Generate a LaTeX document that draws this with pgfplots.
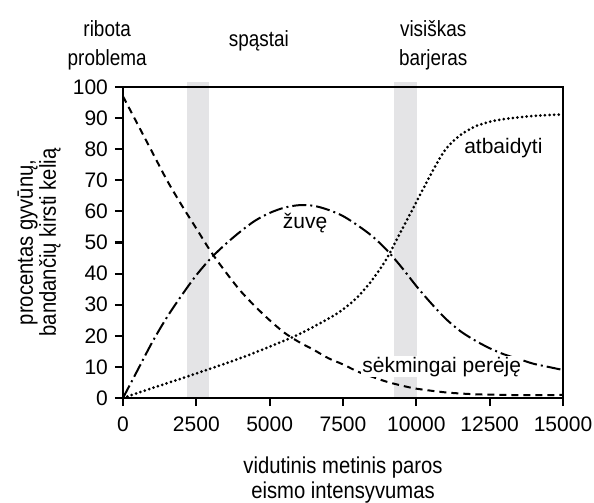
\documentclass[border=0pt]{standalone}
\usepackage{pgfplots}
\pgfplotsset{compat=1.18}
\usepackage{fontspec}
\setmainfont{Liberation Sans}
\newfontfamily\narrowfont[FakeStretch=0.88]{Liberation Sans}
\newfontfamily\topfont[FakeStretch=0.86]{Liberation Sans}
\definecolor{bandgray}{HTML}{E4E4E6}
\begin{document}
\begin{tikzpicture}
\path[use as bounding box] (-61.5pt,-52.5pt) rectangle (235.5pt,199pt);
\begin{axis}[
  scale only axis,
  width=220pt, height=155.5pt,
  xmin=0, xmax=15000, ymin=0, ymax=100,
  clip=false,
  axis on top,
  xtick={0,2500,5000,7500,10000,12500,15000},
  ytick={0,10,20,30,40,50,60,70,80,90,100},
  scaled x ticks=false,
  /pgf/number format/fixed,
  /pgf/number format/1000 sep={},
  /pgf/number format/assume math mode=true,
  xtick pos=bottom, ytick pos=left,
  tick align=outside,
  major tick length=4pt,
  tick style={line width=1pt, black},
  axis line style={line width=1.3pt, black},
  ticklabel style={font=\fontsize{10.5}{12}\selectfont},
  xticklabel style={yshift=-2pt},
  yticklabel style={xshift=0pt},
]
\addplot[fill=bandgray, draw=none, forget plot] coordinates {(2170,0) (2170,101.7) (2920,101.7) (2920,0)} -- cycle;
\addplot[fill=bandgray, draw=none, forget plot] coordinates {(9240,0) (9240,101.7) (10030,101.7) (10030,0)} -- cycle;

% sekmingai pereje (dashed)
\addplot[black, line width=1pt, smooth, dash pattern=on 3.5pt off 2.5pt] coordinates {
(0,97) (500,88) (1000,79) (1500,70) (2000,62) (2500,54.5) (3000,47) (3500,40.5)
(4000,34.5) (4500,29.5) (5000,25) (5500,21) (6000,18) (6500,15.5) (7000,12.8)
(7500,10.8) (8000,8.5) (8500,6.8) (9000,5.2) (9500,4) (10000,3) (11000,1.8)
(12000,1.2) (13000,1) (14000,0.9) (15000,1)};

% zuve (dash-dot)
\addplot[black, line width=1pt, smooth, dash pattern=on 7pt off 2pt on 1pt off 2pt] coordinates {
(0,0) (500,9) (1000,18) (1500,26) (2000,33) (2500,39.5) (3000,45) (3500,49.5)
(4000,53.5) (4500,57) (5000,59.5) (5500,61.2) (6000,62) (6500,61.8) (7000,60.5)
(7500,58.5) (8000,55.5) (8500,52) (9000,47.5) (9500,42) (10000,36) (10500,30.5)
(11000,25.5) (11500,21.5) (12000,18.5) (12500,16) (13000,14) (13500,12.5)
(14000,11) (14500,10) (15000,9)};

% atbaidyti (dotted)
\addplot[black, line width=1.5pt, smooth, line cap=round, dash pattern=on 0pt off 2.3pt] coordinates {
(0,0) (1000,3.2) (2000,6.3) (3000,9.5) (4000,12.8) (5000,16.5) (6000,20.5)
(7000,25.5) (7500,28.5) (8000,32.5) (8500,38) (9000,45) (9500,54) (10000,63)
(10500,72) (11000,80) (11500,84.5) (12000,87.3) (12500,88.8) (13000,89.7)
(14000,90.7) (15000,91.2)};

\node[font=\fontsize{10.5}{12}\selectfont] at (axis cs:6205,56.2) {žuvę};
\node[font=\fontsize{10.5}{12}\selectfont] at (axis cs:12967,80.3) {atbaidyti};
\node[font=\fontsize{10.5}{12}\selectfont, fill=white, inner sep=0.5pt] at (axis cs:10865,10.1) {sėkmingai perėję};

\node[font=\topfont\fontsize{11}{14.5}\selectfont, align=center] at ([yshift=21pt]rel axis cs:-0.036,1) {ribota\\problema};
\node[font=\topfont\fontsize{11}{14.5}\selectfont, align=center] at ([yshift=23pt]rel axis cs:0.309,1) {spąstai};
\node[font=\topfont\fontsize{11}{14.5}\selectfont, align=center] at ([yshift=21pt]rel axis cs:0.705,1) {visiškas\\barjeras};

\node[font=\narrowfont\fontsize{11.5}{12.5}\selectfont, align=center] at ([yshift=-41pt]rel axis cs:0.5,0) {vidutinis metinis paros\\eismo intensyvumas};
\node[font=\narrowfont\fontsize{11.5}{11.5}\selectfont, align=center, rotate=90] at ([xshift=-42pt]rel axis cs:0,0.5) {procentas gyvūnų,\\bandančių kirsti kelią};
\end{axis}
\end{tikzpicture}
\end{document}
